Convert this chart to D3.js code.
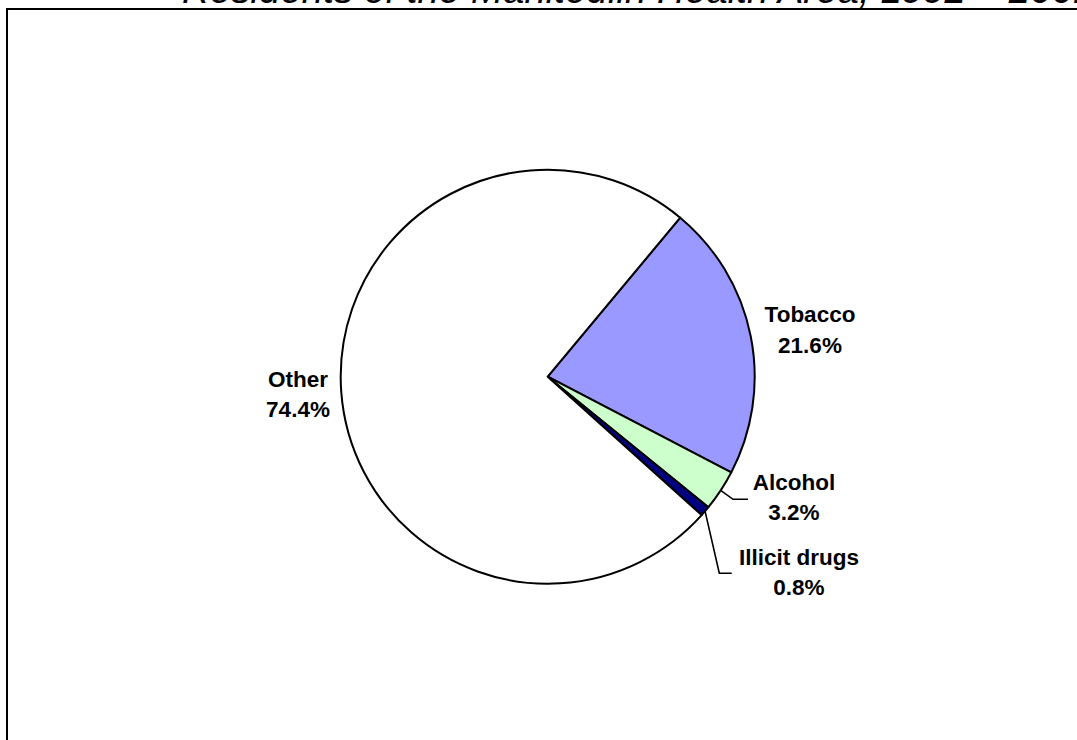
<!DOCTYPE html>
<html>
<head>
<meta charset="utf-8">
<script src="https://cdn.jsdelivr.net/npm/d3@7/dist/d3.min.js"></script>
<style>
  html, body { margin: 0; padding: 0; background: #fff; }
  svg { display: block; }
  text { font-family: "Liberation Sans", Arial, sans-serif; }
</style>
</head>
<body>
<svg id="chart" width="1077" height="740"></svg>
<script>
// Share of deaths by cause
const categories = ["Tobacco", "Alcohol", "Illicit drugs", "Other"];
const shares = [21.6, 3.2, 0.8, 74.4];
const labels = ["21.6%", "3.2%", "0.8%", "74.4%"];
const colors = ["#9999FF", "#CCFFCC", "#000080", "#FFFFFF"];
const titleText = "Residents of the Manitoulin Health Area, 1992 – 2001";

const svg = d3.select("#chart");
const W = 1077, H = 740;

// Outer frame (extends past the right and bottom of the view)
svg.append("rect")
  .attr("x", 7).attr("y", 9)
  .attr("width", W + 20).attr("height", H + 20)
  .attr("fill", "#fff").attr("stroke", "#000").attr("stroke-width", 2);

// Title (only its lower edge shows above the frame)
svg.append("text")
  .attr("x", 182).attr("y", 3)
  .attr("font-size", 38.5)
  .attr("font-style", "italic")
  .attr("fill", "#000")
  .text(titleText);

const cx = 547.7, cy = 376.7, r = 207;
const startDeg = 39.8;

const data = categories.map((c, i) => ({ name: c, value: shares[i], label: labels[i], color: colors[i] }));

const pie = d3.pie()
  .sort(null)
  .value(d => d.value)
  .startAngle(startDeg * Math.PI / 180)
  .endAngle((startDeg + 360) * Math.PI / 180);

const arc = d3.arc().innerRadius(0).outerRadius(r);
const arcs = pie(data);

const g = svg.append("g").attr("transform", `translate(${cx},${cy})`);

g.selectAll("path.slice")
  .data(arcs)
  .join("path")
  .attr("class", "slice")
  .attr("d", arc)
  .attr("fill", d => d.data.color)
  .attr("stroke", "#000")
  .attr("stroke-width", 2)
  .attr("stroke-linejoin", "round");

// Label placement relative to the pie centre
const labelPos = {
  "Tobacco":       { x: 810 - cx, y: 322 - cy, anchor: "middle" },
  "Alcohol":       { x: 794 - cx, y: 490 - cy, anchor: "middle",
                     elbow: [733 - cx, 499.3 - cy], end: [748 - cx, 499.3 - cy] },
  "Illicit drugs": { x: 799 - cx, y: 565 - cy, anchor: "middle",
                     elbow: [719.3 - cx, 573.3 - cy], end: [731.7 - cx, 573.3 - cy] },
  "Other":         { x: 298 - cx, y: 386.7 - cy, anchor: "middle" }
};

// Leader lines for the thin slices
arcs.forEach(a => {
  const p = labelPos[a.data.name];
  if (!p.elbow) return;
  const mid = (a.startAngle + a.endAngle) / 2;
  const sx = r * Math.sin(mid), sy = -r * Math.cos(mid);
  g.append("polyline")
    .attr("points", [[sx, sy], p.elbow, p.end].map(q => q.join(",")).join(" "))
    .attr("fill", "none")
    .attr("stroke", "#000")
    .attr("stroke-width", 1.6);
});

const lbl = g.selectAll("g.lbl")
  .data(arcs)
  .join("g")
  .attr("class", "lbl");

lbl.append("text")
  .attr("x", d => labelPos[d.data.name].x)
  .attr("y", d => labelPos[d.data.name].y)
  .attr("text-anchor", d => labelPos[d.data.name].anchor)
  .attr("font-size", 22.5)
  .attr("font-weight", "bold")
  .attr("fill", "#000")
  .text(d => d.data.name);

lbl.append("text")
  .attr("x", d => labelPos[d.data.name].x)
  .attr("y", d => labelPos[d.data.name].y + 30.5)
  .attr("text-anchor", d => labelPos[d.data.name].anchor)
  .attr("font-size", 22.5)
  .attr("font-weight", "bold")
  .attr("fill", "#000")
  .text(d => d.data.label);
</script>
</body>
</html>
